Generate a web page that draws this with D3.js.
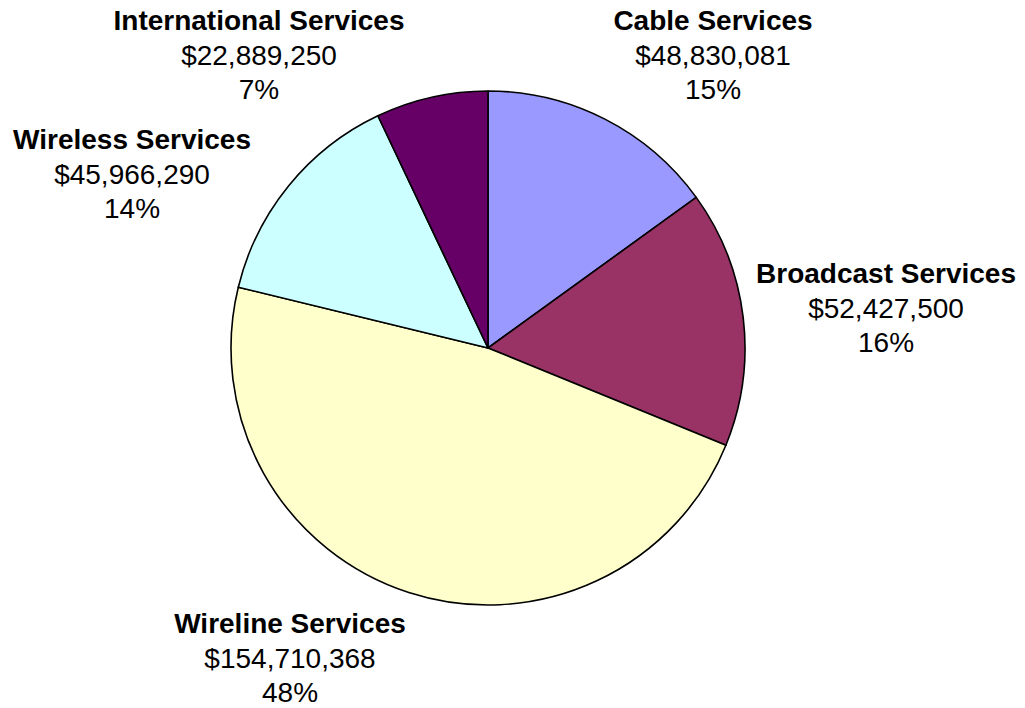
<!DOCTYPE html>
<html>
<head>
<meta charset="utf-8">
<script src="https://cdn.jsdelivr.net/npm/d3@7"></script>
<style>
  html, body { margin: 0; padding: 0; background: #fff; }
  svg { display: block; }
  text { font-family: Arial, "Liberation Sans", sans-serif; fill: #000; font-size: 28px; }
</style>
</head>
<body>
<svg id="chart" width="1025" height="708"></svg>
<script>
// Revenue by service category
const categories = ["Cable Services", "Broadcast Services", "Wireline Services", "Wireless Services", "International Services"];
const values = [48830081, 52427500, 154710368, 45966290, 22889250];
const colors = ["#9999FF", "#993366", "#FFFFCC", "#CCFFFF", "#660066"];
// Label placement: horizontal centre and baseline of the first (bold) line
const labelX = [713, 886, 290, 132, 259];
const labelY = [30, 283, 633, 149, 30];

const svg = d3.select("#chart");
const cx = 488, cy = 348, radius = 257;
const lineStep = 34.5;

const data = categories.map((c, i) => ({ name: c, value: values[i], color: colors[i], lx: labelX[i], ly: labelY[i] }));
const total = d3.sum(values);

const pie = d3.pie().value(d => d.value).sort(null);
const arc = d3.arc().innerRadius(0).outerRadius(radius);

const g = svg.append("g").attr("transform", `translate(${cx},${cy})`);
g.selectAll("path")
  .data(pie(data))
  .join("path")
  .attr("d", arc)
  .attr("fill", d => d.data.color)
  .attr("stroke", "#000")
  .attr("stroke-width", 1.6)
  .attr("stroke-linejoin", "round");

const fmt = d3.format(",");
const labels = svg.selectAll("g.label")
  .data(data)
  .join("g")
  .attr("class", "label")
  .attr("transform", d => `translate(${d.lx},${d.ly})`);

labels.append("text")
  .attr("text-anchor", "middle").attr("y", 0)
  .style("font-weight", "bold")
  .text(d => d.name);
labels.append("text")
  .attr("text-anchor", "middle").attr("y", lineStep)
  .text(d => "$" + fmt(d.value));
labels.append("text")
  .attr("text-anchor", "middle").attr("y", lineStep * 2)
  .text(d => Math.round(d.value / total * 100) + "%");
</script>
</body>
</html>
